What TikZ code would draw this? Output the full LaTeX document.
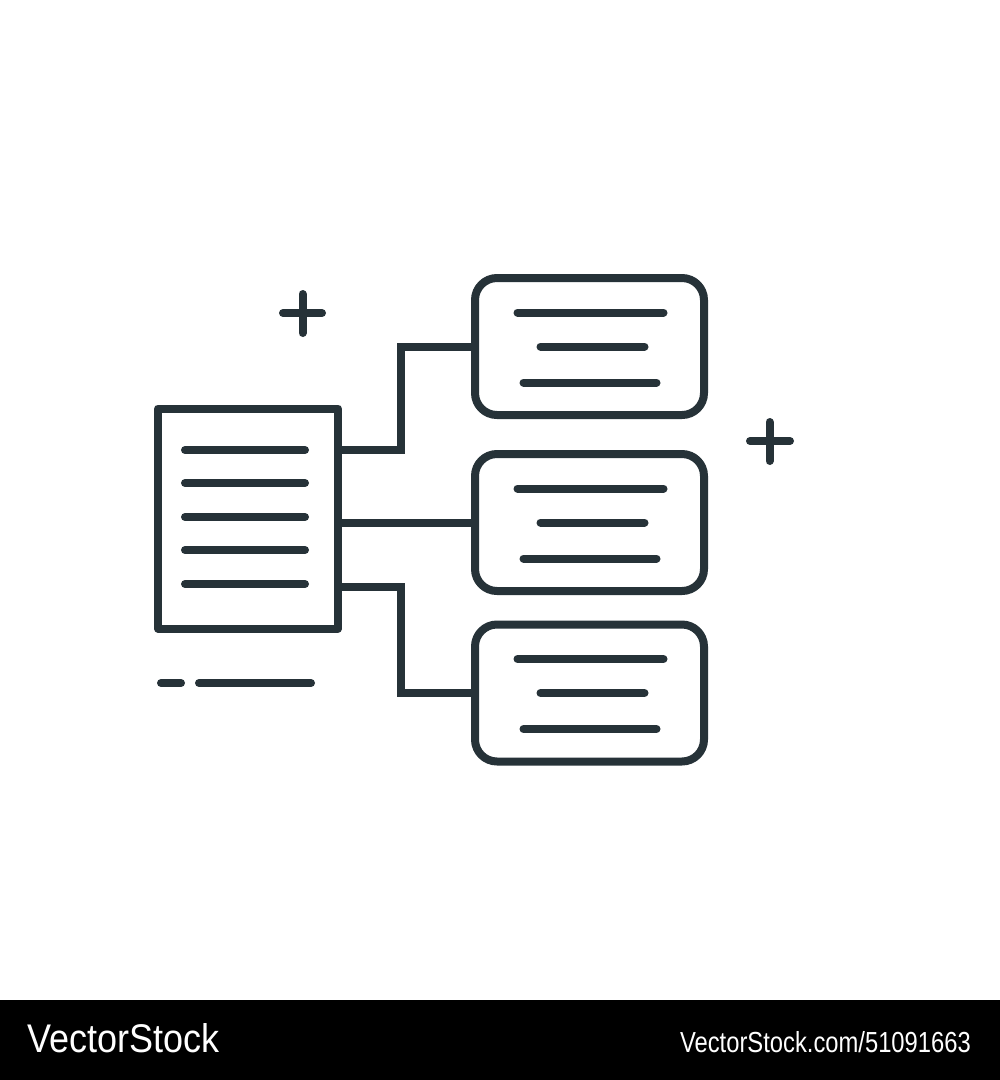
\documentclass[tikz,border=0pt]{standalone}
\usepackage{fontspec}
\setmainfont{Liberation Sans}
\definecolor{ink}{RGB}{38,50,56}
\begin{document}
\begin{tikzpicture}[x=1pt,y=-1pt,
  stroke/.style={draw=ink,line width=8pt,line join=round},
  bar/.style={draw=ink,line width=8pt,line cap=round},
  docbox/.style={stroke,rectangle,inner sep=0pt,minimum width=180pt,minimum height=220pt},
  cardbox/.style={stroke,rectangle,rounded corners=22pt,inner sep=0pt,minimum width=229pt,minimum height=137pt},
  link/.style={draw=ink,line width=8pt,line join=miter}]
\useasboundingbox (0,0) rectangle (1000,1080);
\fill[white] (0,0) rectangle (1000,1000);
\fill[black] (0,1000) rectangle (1000,1080);

% document
\node[docbox] (doc) at (248,518.5) {};
\foreach \y in {450,483,517,550,584} \draw[bar] (185,\y) -- (305,\y);

% cards
\node[cardbox] (c1) at (589.5,346.5) {};
\node[cardbox] (c2) at (589.5,522.5) {};
\node[cardbox] (c3) at (589.5,693) {};
\foreach \c in {c1,c2,c3}{
  \draw[bar] ([xshift=-72pt,yshift=34pt]\c.center) -- ([xshift=74pt,yshift=34pt]\c.center);
  \draw[bar] ([xshift=-49pt]\c.center) -- ([xshift=55pt]\c.center);
  \draw[bar] ([xshift=-66pt,yshift=-36pt]\c.center) -- ([xshift=67pt,yshift=-36pt]\c.center);
}

% connectors
\coordinate (j) at (401,0);
\draw[link] (doc.east |- 0,450) -| (j |- c1.west) -- (c1.west);
\draw[link] (doc.east |- c2.west) -- (c2.west);
\draw[link] (doc.east |- 0,587) -| (j |- c3.west) -- (c3.west);

% plus signs
\draw[bar] (283,313) -- (322,313) (302.5,294) -- (302.5,333);
\draw[bar] (750,441) -- (790,441) (769.5,422) -- (769.5,461);

% dashes
\draw[bar] (161,683) -- (181,683);
\draw[bar] (199,683) -- (311,683);

% footer
\node[anchor=base west,inner sep=0pt,text=white,font=\fontsize{40}{40}\selectfont,xscale=0.9] (brand) at (27,1052) {VectorStock};
\node[anchor=base east,inner sep=0pt,text=white,font=\fontsize{29}{29}\selectfont,xscale=0.82] (ref) at (971,1052) {VectorStock.com/51091663};
\end{tikzpicture}
\end{document}
